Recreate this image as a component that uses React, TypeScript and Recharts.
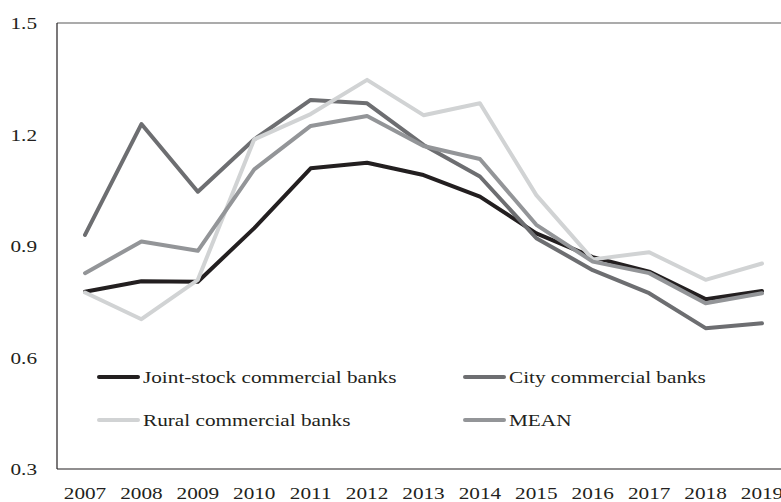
import { LineChart, Line, XAxis, YAxis, ReferenceLine } from "recharts";

const years = ["2007", "2008", "2009", "2010", "2011", "2012", "2013", "2014", "2015", "2016", "2017", "2018", "2019"];
const jointStock = [0.777, 0.805, 0.804, 0.948, 1.109, 1.124, 1.091, 1.033, 0.934, 0.87, 0.831, 0.757, 0.779];
const cityBanks = [0.93, 1.228, 1.046, 1.187, 1.293, 1.284, 1.172, 1.087, 0.921, 0.835, 0.773, 0.679, 0.692];
const ruralBanks = [0.775, 0.703, 0.809, 1.187, 1.255, 1.347, 1.252, 1.284, 1.037, 0.864, 0.883, 0.809, 0.853];
const meanValues = [0.827, 0.912, 0.887, 1.106, 1.223, 1.25, 1.169, 1.134, 0.957, 0.858, 0.827, 0.746, 0.773];
const yTicks = [0.3, 0.6, 0.9, 1.2, 1.5];

const data = years.map((year, i) => ({
  year,
  joint: jointStock[i],
  city: cityBanks[i],
  rural: ruralBanks[i],
  mean: meanValues[i],
}));

const series = [
  { key: "joint", name: "Joint-stock commercial banks", color: "#231f20" },
  { key: "city", name: "City commercial banks", color: "#6d6e71" },
  { key: "rural", name: "Rural commercial banks", color: "#d1d3d4" },
  { key: "mean", name: "MEAN", color: "#939598" },
];

const FONT = "'Liberation Serif', 'Times New Roman', serif";
const TEXT = "#231f20";
const FONT_SIZE = 17.7;
const STRETCH = 1.2; // text in the source is stretched sideways

function XTick({ x, y, payload }: any) {
  return (
    <text transform={`translate(${x},${y}) scale(${STRETCH},1)`} textAnchor="middle" dy="0.71em" fontSize={FONT_SIZE} fontFamily={FONT} fill={TEXT}>
      {payload.value}
    </text>
  );
}

function YTick({ x, y, payload }: any) {
  return (
    <text transform={`translate(${x},${y}) scale(${STRETCH},1)`} textAnchor="end" dy="0.355em" fontSize={FONT_SIZE} fontFamily={FONT} fill={TEXT}>
      {payload.value.toFixed(1)}
    </text>
  );
}

const legendSlots = [
  { left: 97, top: 377 },
  { left: 463, top: 377 },
  { left: 97, top: 420 },
  { left: 463, top: 420 },
];

export default function App() {
  return (
    <div style={{ position: "absolute", left: 0, top: 0, width: 781, height: 502, overflow: "hidden", background: "#fff" }}>
      <LineChart width={795} height={502} data={data} margin={{ top: 23, right: 5, left: 0, bottom: 0 }}>
        <XAxis
          dataKey="year"
          height={33}
          padding={{ left: 28, right: 28 }}
          tickLine={false}
          tickSize={0}
          tickMargin={17}
          axisLine={{ stroke: "#231f20", strokeWidth: 1.2 }}
          tick={<XTick />}
          interval={0}
        />
        <YAxis
          width={57}
          domain={[0.3, 1.5]}
          ticks={yTicks}
          tickLine={false}
          tickSize={0}
          tickMargin={20}
          axisLine={{ stroke: "#231f20", strokeWidth: 1.2 }}
          tick={<YTick />}
        />
        <ReferenceLine y={1.5} stroke="#595959" strokeWidth={1.2} />
        {series.map((s) => (
          <Line
            key={s.key}
            dataKey={s.key}
            name={s.name}
            stroke={s.color}
            strokeWidth={4}
            dot={false}
            strokeLinecap="round"
            strokeLinejoin="round"
            isAnimationActive={false}
          />
        ))}
      </LineChart>
      {series.map((s, i) => (
        <div
          key={s.key}
          style={{ position: "absolute", left: legendSlots[i].left, top: legendSlots[i].top - 11, height: 22, display: "flex", alignItems: "center", whiteSpace: "nowrap" }}
        >
          <span style={{ display: "inline-block", width: 43, height: 4, borderRadius: 2, background: s.color, marginRight: 3 }} />
          <span style={{ display: "inline-block", fontFamily: FONT, fontSize: FONT_SIZE, color: TEXT, transform: `scaleX(${STRETCH})`, transformOrigin: "left center" }}>
            {s.name}
          </span>
        </div>
      ))}
    </div>
  );
}
